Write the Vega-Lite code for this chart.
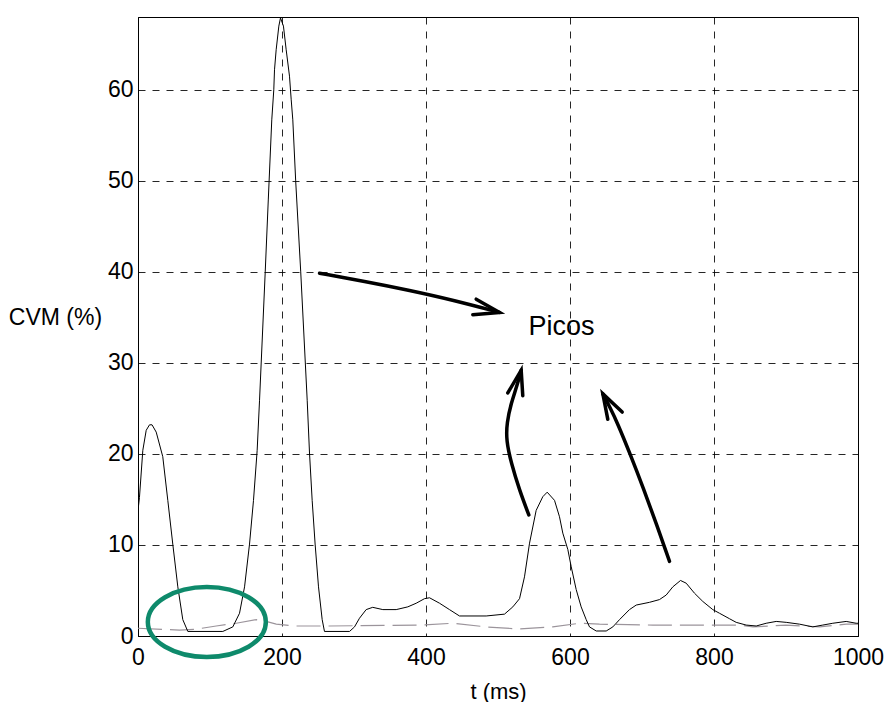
{
  "$schema": "https://vega.github.io/schema/vega-lite/v6.json",
  "width": 720,
  "height": 619,
  "autosize": {"type": "none"},
  "padding": {"left": 138, "top": 17, "right": 28, "bottom": 66},
  "background": "white",
  "config": {
    "font": "Liberation Sans",
    "view": {"stroke": "black", "strokeWidth": 1},
    "axis": {
      "labelFont": "Liberation Sans",
      "titleFont": "Liberation Sans",
      "labelFontSize": 23,
      "titleFontSize": 22,
      "titleFontWeight": "normal",
      "labelColor": "black",
      "titleColor": "black",
      "domainColor": "black",
      "tickColor": "black",
      "grid": true,
      "gridColor": "black",
      "gridOpacity": 0.85,
      "gridDash": [7, 7],
      "gridWidth": 1,
      "ticks": false,
      "labelFlush": false,
      "labelOverlap": false
    }
  },
  "datasets": {
    "cvm": [
      {"t": 0, "v": 13.8}, {"t": 2, "v": 15.2}, {"t": 6.7, "v": 20.4}, {"t": 11.4, "v": 22.6}, {"t": 16, "v": 23.2}, {"t": 19.5, "v": 23.2}, {"t": 25.3, "v": 22.4}, {"t": 34.4, "v": 19.7}, {"t": 41.4, "v": 14.9}, {"t": 48.3, "v": 10.1}, {"t": 55.3, "v": 5.4}, {"t": 62.2, "v": 1.8}, {"t": 69.2, "v": 0.5}, {"t": 117.8, "v": 0.5}, {"t": 131.7, "v": 1.0}, {"t": 141, "v": 2.5}, {"t": 148, "v": 5.4}, {"t": 154.9, "v": 10.1}, {"t": 160.4, "v": 14.9}, {"t": 165.5, "v": 20.4}, {"t": 168.8, "v": 25.9}, {"t": 176.7, "v": 40}, {"t": 181, "v": 48}, {"t": 185.8, "v": 56.7}, {"t": 188.6, "v": 60}, {"t": 189.6, "v": 62.2}, {"t": 191.9, "v": 64.4}, {"t": 195.6, "v": 67}, {"t": 197.9, "v": 67.9}, {"t": 202, "v": 67}, {"t": 205.8, "v": 64.4}, {"t": 210.4, "v": 61.5}, {"t": 212.8, "v": 58.9}, {"t": 215, "v": 56.7}, {"t": 219, "v": 50}, {"t": 226, "v": 40}, {"t": 235, "v": 25.9}, {"t": 238.2, "v": 20.1}, {"t": 241.9, "v": 14.9}, {"t": 246, "v": 10.1}, {"t": 250.7, "v": 5.4}, {"t": 255.8, "v": 1.8}, {"t": 259, "v": 0.5}, {"t": 293.8, "v": 0.5}, {"t": 300.7, "v": 1.0}, {"t": 307.6, "v": 1.95}, {"t": 316.9, "v": 2.9}, {"t": 326, "v": 3.15}, {"t": 340, "v": 2.9}, {"t": 358.6, "v": 2.9}, {"t": 374.7, "v": 3.2}, {"t": 386.4, "v": 3.6}, {"t": 397.9, "v": 4.1}, {"t": 404.9, "v": 4.2}, {"t": 418.8, "v": 3.6}, {"t": 432.6, "v": 2.9}, {"t": 446.5, "v": 2.2}, {"t": 483.6, "v": 2.2}, {"t": 509, "v": 2.4}, {"t": 520.6, "v": 3.2}, {"t": 529.9, "v": 4.1}, {"t": 536.8, "v": 6.5}, {"t": 543.8, "v": 10.2}, {"t": 553, "v": 13.8}, {"t": 562.2, "v": 15.3}, {"t": 568.3, "v": 15.8}, {"t": 578.5, "v": 14.9}, {"t": 585.4, "v": 13.1}, {"t": 590, "v": 11.3}, {"t": 597, "v": 9.5}, {"t": 601.7, "v": 7.6}, {"t": 608.6, "v": 5.1}, {"t": 615.5, "v": 3.2}, {"t": 622.5, "v": 1.8}, {"t": 627.1, "v": 1.0}, {"t": 636.4, "v": 0.55}, {"t": 650.3, "v": 0.55}, {"t": 659.5, "v": 1.0}, {"t": 668.8, "v": 1.8}, {"t": 682.6, "v": 2.9}, {"t": 692, "v": 3.4}, {"t": 710.4, "v": 3.7}, {"t": 724.3, "v": 4.0}, {"t": 733.6, "v": 4.5}, {"t": 742.8, "v": 5.4}, {"t": 753.5, "v": 6.1}, {"t": 761.4, "v": 5.8}, {"t": 772.9, "v": 4.7}, {"t": 784.4, "v": 3.8}, {"t": 798.3, "v": 2.9}, {"t": 807.6, "v": 2.5}, {"t": 821.5, "v": 1.9}, {"t": 830.8, "v": 1.5}, {"t": 844.7, "v": 1.2}, {"t": 858.6, "v": 1.1}, {"t": 872.5, "v": 1.4}, {"t": 886.4, "v": 1.6}, {"t": 900.3, "v": 1.5}, {"t": 918.8, "v": 1.3}, {"t": 937.2, "v": 1.0}, {"t": 951.1, "v": 1.2}, {"t": 965, "v": 1.4}, {"t": 983.6, "v": 1.6}, {"t": 997.5, "v": 1.4}, {"t": 1000, "v": 1.4}
    ],
    "ref": [
      {"t": 0, "v": 0.85}, {"t": 57.6, "v": 0.65}, {"t": 80.8, "v": 0.75}, {"t": 108.6, "v": 1.1}, {"t": 136.4, "v": 1.4}, {"t": 164.2, "v": 1.8}, {"t": 178, "v": 1.6}, {"t": 192, "v": 1.3}, {"t": 219.7, "v": 1.1}, {"t": 266, "v": 1.1}, {"t": 391, "v": 1.2}, {"t": 437, "v": 1.4}, {"t": 483.6, "v": 1.0}, {"t": 529.9, "v": 0.77}, {"t": 576, "v": 1.0}, {"t": 613, "v": 1.4}, {"t": 641, "v": 1.3}, {"t": 715, "v": 1.2}, {"t": 784, "v": 1.2}, {"t": 835, "v": 1.2}, {"t": 854, "v": 1.0}, {"t": 900, "v": 1.2}, {"t": 923, "v": 1.1}, {"t": 946.5, "v": 1.0}, {"t": 983.6, "v": 1.3}, {"t": 1000, "v": 1.3}
    ],
    "shafts": [
      {"arrow": "a1", "k": 1, "t": 252.1, "v": 39.85}, {"arrow": "a1", "k": 2, "t": 314.6, "v": 38.97}, {"arrow": "a1", "k": 3, "t": 377.1, "v": 37.98}, {"arrow": "a1", "k": 4, "t": 439.6, "v": 36.87}, {"arrow": "a1", "k": 5, "t": 502.1, "v": 35.55},
      {"arrow": "a2", "k": 1, "t": 542.8, "v": 13.3}, {"arrow": "a2", "k": 2, "t": 529.9, "v": 16.0}, {"arrow": "a2", "k": 3, "t": 518.3, "v": 19.0}, {"arrow": "a2", "k": 4, "t": 511.4, "v": 21.5}, {"arrow": "a2", "k": 5, "t": 512.2, "v": 23.4}, {"arrow": "a2", "k": 6, "t": 518.3, "v": 25.6}, {"arrow": "a2", "k": 7, "t": 526.1, "v": 27.4}, {"arrow": "a2", "k": 8, "t": 532.2, "v": 29.2},
      {"arrow": "a3", "k": 1, "t": 738.2, "v": 8.2}, {"arrow": "a3", "k": 2, "t": 720.1, "v": 12.3}, {"arrow": "a3", "k": 3, "t": 702.1, "v": 16.2}, {"arrow": "a3", "k": 4, "t": 684.0, "v": 19.9}, {"arrow": "a3", "k": 5, "t": 665.9, "v": 23.4}, {"arrow": "a3", "k": 6, "t": 655.6, "v": 25.1}, {"arrow": "a3", "k": 7, "t": 645.6, "v": 26.6}
    ],
    "heads": [
      {"arrow": "a1", "k": 1, "t": 469.7, "v": 37.0}, {"arrow": "a1", "k": 2, "t": 502.1, "v": 35.55}, {"arrow": "a1", "k": 3, "t": 465, "v": 35.3},
      {"arrow": "a2", "k": 1, "t": 513.6, "v": 26.7}, {"arrow": "a2", "k": 2, "t": 532.2, "v": 29.2}, {"arrow": "a2", "k": 3, "t": 534.4, "v": 26.4},
      {"arrow": "a3", "k": 1, "t": 652.5, "v": 23.8}, {"arrow": "a3", "k": 2, "t": 645.6, "v": 26.6}, {"arrow": "a3", "k": 3, "t": 672.5, "v": 24.6}
    ],
    "ellipse": [{"t": 95.6, "v": 1.54}],
    "labels": [{"t": 588.2, "v": 33.1, "text": "Picos"}]
  },
  "encoding": {
    "x": {
      "field": "t", "type": "quantitative",
      "scale": {"domain": [0, 1000], "nice": false, "zero": false},
      "axis": {"values": [0, 200, 400, 600, 800, 1000], "format": "d", "title": "t (ms)", "labelPadding": 10, "titleY": 62, "titleBaseline": "alphabetic"}
    },
    "y": {
      "field": "v", "type": "quantitative",
      "scale": {"domain": [0, 68], "nice": false},
      "axis": {"values": [0, 10, 20, 30, 40, 50, 60], "format": "d", "title": "CVM (%)", "titleFontSize": 23, "labelPadding": 5, "titleAngle": 0, "titleAlign": "center", "titleBaseline": "alphabetic", "titleX": -83, "titleY": 307}
    }
  },
  "layer": [
    {
      "data": {"name": "ref"},
      "mark": {"type": "line", "color": "#9b949b", "strokeWidth": 1.2, "strokeDash": [24, 8], "clip": true}
    },
    {
      "data": {"name": "cvm"},
      "mark": {"type": "line", "color": "black", "strokeWidth": 1, "clip": true}
    },
    {
      "data": {"name": "shafts"},
      "mark": {"type": "line", "color": "black", "strokeWidth": 3.5, "strokeCap": "round", "interpolate": "basis"},
      "encoding": {"detail": {"field": "arrow"}, "order": {"field": "k", "type": "quantitative"}}
    },
    {
      "data": {"name": "heads"},
      "mark": {"type": "line", "color": "black", "strokeWidth": 3.5, "strokeCap": "round", "strokeJoin": "miter"},
      "encoding": {"detail": {"field": "arrow"}, "order": {"field": "k", "type": "quantitative"}}
    },
    {
      "data": {"name": "ellipse"},
      "mark": {"type": "point", "shape": "M-1,0A1,0.593,0,1,1,1,0A1,0.593,0,1,1,-1,0Z", "size": 13924, "filled": false, "stroke": "#0e8a6b", "strokeWidth": 4.5, "opacity": 1}
    },
    {
      "data": {"name": "labels"},
      "mark": {"type": "text", "fontSize": 27, "font": "Liberation Sans", "align": "center", "baseline": "alphabetic", "color": "black"},
      "encoding": {"text": {"field": "text"}}
    }
  ]
}
